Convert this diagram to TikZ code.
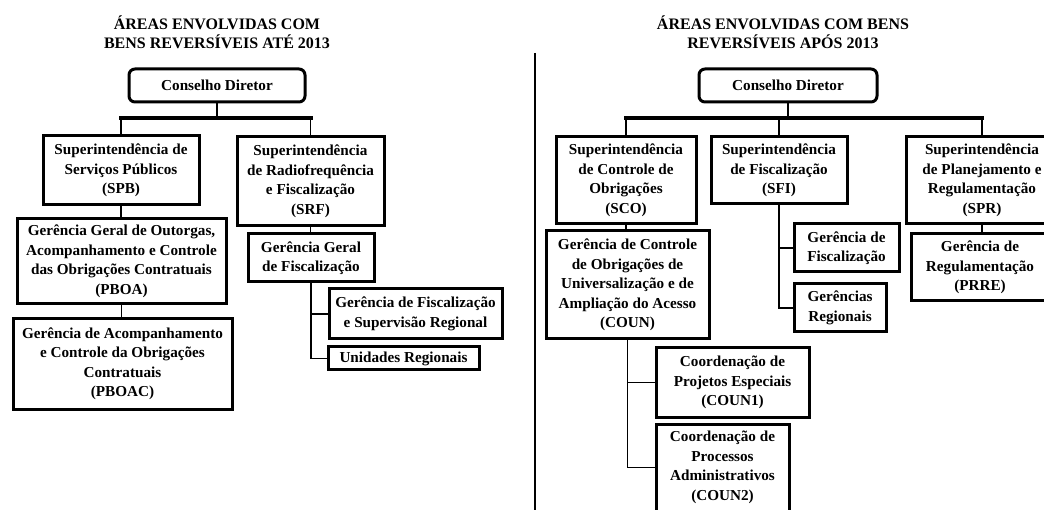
\documentclass[tikz,border=0pt]{standalone}
\usepackage{fontspec}
\setmainfont{Liberation Serif}

\begin{document}
\begin{tikzpicture}
    \def\dx{10pt}
    \def\dy{10pt}

    \tikzstyle{title}=[font=\bfseries\fontsize{16}{19}\selectfont,align=center]
    \tikzstyle{dept}=[draw=black,line width=3pt,align=center,inner sep=1pt,font=\bfseries\fontsize{15.2}{19.5}\selectfont]
    \tikzstyle{board}=[dept,rounded corners=6pt]
    \tikzstyle{link}=[draw=black,line width=1.8pt]
    \tikzstyle{bar}=[draw=black,line width=4pt,line cap=rect]
    \tikzstyle{divider}=[draw=black,line width=2.4pt]

    \useasboundingbox (0,0) rectangle (104.4*\dx,-51*\dy);
    \clip (0,0) rectangle (104.4*\dx,-51*\dy);

    % before 2013
    \node[title] (t1) at (21.7*\dx,-3.25*\dy) {ÁREAS ENVOLVIDAS COM\\BENS REVERSÍVEIS ATÉ 2013};
    \node[board,minimum width=176pt,minimum height=33pt] (cd1) at (21.7*\dx,-8.55*\dy) {Conselho Diretor};
    \node[dept,minimum width=156pt,minimum height=69pt] (spb) at (12.1*\dx,-17.05*\dy) {Superintendência de\\Serviços Públicos\\(SPB)};
    \node[dept,minimum width=147pt,minimum height=89pt] (srf) at (31.05*\dx,-18.15*\dy) {Superintendência\\de Radiofrequência\\e Fiscalização\\(SRF)};
    \node[dept,minimum width=209pt,minimum height=85pt] (pboa) at (12.15*\dx,-26.15*\dy) {Gerência Geral de Outorgas,\\Acompanhamento e Controle\\das Obrigações Contratuais\\(PBOA)};
    \node[dept,minimum width=219pt,minimum height=90pt] (pboac) at (12.25*\dx,-36.4*\dy) {Gerência de Acompanhamento\\e Controle da Obrigações\\Contratuais\\(PBOAC)};
    \node[dept,minimum width=126pt,minimum height=48pt] (ggf) at (31.1*\dx,-25.8*\dy) {Gerência Geral\\de Fiscalização};
    \node[dept,minimum width=173pt,minimum height=50pt] (gfs) at (41.55*\dx,-31.4*\dy) {Gerência de Fiscalização\\e Supervisão Regional};
    \node[dept,minimum width=151pt,minimum height=23pt] (ur) at (40.35*\dx,-35.85*\dy) {Unidades Regionais};

    % after 2013
    \node[title] (t2) at (78.3*\dx,-3.25*\dy) {ÁREAS ENVOLVIDAS COM BENS\\REVERSÍVEIS APÓS 2013};
    \node[board,minimum width=178pt,minimum height=33pt] (cd2) at (78.8*\dx,-8.55*\dy) {Conselho Diretor};
    \node[dept,minimum width=140pt,minimum height=87pt] (sco) at (62.6*\dx,-18.05*\dy) {Superintendência\\de Controle de\\Obrigações\\(SCO)};
    \node[dept,minimum width=136pt,minimum height=67pt] (sfi) at (77.9*\dx,-17.05*\dy) {Superintendência\\de Fiscalização\\(SFI)};
    \node[dept,minimum width=152pt,minimum height=87pt] (spr) at (98.2*\dx,-18.05*\dy) {Superintendência\\de Planejamento e\\Regulamentação\\(SPR)};
    \node[dept,minimum width=163pt,minimum height=108pt] (coun) at (62.75*\dx,-28.5*\dy) {Gerência de Controle\\de Obrigações de\\Universalização e de\\Ampliação do Acesso\\(COUN)};
    \node[dept,minimum width=105pt,minimum height=48pt] (gf) at (84.65*\dx,-24.8*\dy) {Gerência de\\Fiscalização};
    \node[dept,minimum width=92pt,minimum height=48pt] (gr) at (84*\dx,-30.8*\dy) {Gerências\\Regionais};
    \node[dept,minimum width=138pt,minimum height=67pt] (prre) at (98*\dx,-26.75*\dy) {Gerência de\\Regulamentação\\(PRRE)};
    \node[dept,minimum width=153pt,minimum height=69pt] (coun1) at (73.25*\dx,-38.25*\dy) {Coordenação de\\Projetos Especiais\\(COUN1)};
    \node[dept,minimum width=133pt,minimum height=87pt] (coun2) at (72.25*\dx,-46.75*\dy) {Coordenação de\\Processos\\Administrativos\\(COUN2)};

    \coordinate (j1) at (21.7*\dx,-11.8*\dy);
    \coordinate (j2) at (78.8*\dx,-11.8*\dy);
    \coordinate (d1) at (53.5*\dx,-5.3*\dy);
    \coordinate (d2) at (53.5*\dx,-51*\dy);

          \draw [link] (cd1) -- (j1);
          \draw [bar] (j1 -| spb) -- (j1 -| srf);
          \draw [link] (j1 -| spb) -- (spb);
          \draw [link] (j1 -| srf) -- (srf);
          \draw [link] (spb.south) -- (spb.south |- pboa.north);
          \draw [link] (pboa.south) -- (pboa.south |- pboac.north);
          \draw [link] (srf.south) -- (srf.south |- ggf.north);
          \draw [link] (ggf.south) |- (ur.west);
          \draw [link] (ggf.south |- gfs.west) -- (gfs.west);

          \draw [link] (cd2) -- (j2);
          \draw [bar] (j2 -| sco) -- (j2 -| spr);
          \draw [link] (j2 -| sco) -- (sco);
          \draw [link] (j2 -| sfi) -- (sfi);
          \draw [link] (j2 -| spr) -- (spr);
          \draw [link] (sco.south) -- (sco.south |- coun.north);
          \draw [link] (sfi.south) |- (gr.west);
          \draw [link] (sfi.south |- gf.west) -- (gf.west);
          \draw [link] (spr.south) -- (spr.south |- prre.north);
          \draw [link] (coun.south) |- (coun2.west);
          \draw [link] (coun.south |- coun1.west) -- (coun1.west);

          \draw [divider] (d1) -- (d2);

  \end{tikzpicture}
\end{document}
